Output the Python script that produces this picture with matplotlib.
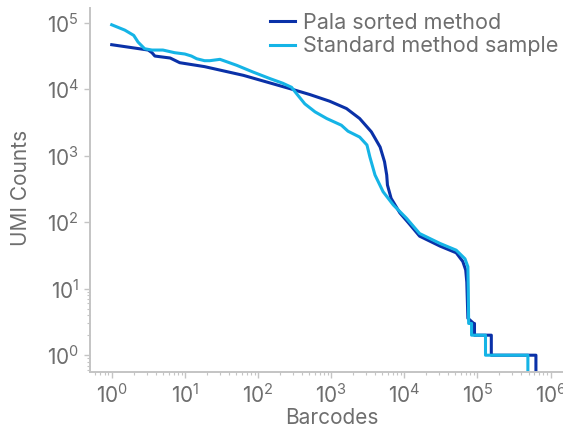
import math
import matplotlib
matplotlib.use("Agg")
import matplotlib.pyplot as plt
from matplotlib.ticker import FixedLocator, FuncFormatter, LogLocator, NullFormatter

plt.rcParams["font.family"] = ["Inter", "DejaVu Sans"]
plt.rcParams["mathtext.fontset"] = "custom"
plt.rcParams["mathtext.rm"] = "Inter"
plt.rcParams["mathtext.it"] = "Inter:italic"
plt.rcParams["mathtext.bf"] = "Inter:bold"

# Barcode rank plot data (barcode rank vs UMI count)
pala_barcodes = [1, 3.16, 3.55, 3.89, 6.31, 8.51, 18.6, 63.1, 275, 513, 955, 1622,
                 2455, 3548, 4677, 5370, 5754, 5888, 6607, 8710, 11220, 16220,
                 30900, 51300, 63100, 69200, 71600, 74100, 89100, 91200, 91200,
                 154900, 154900, 631000, 631000]
pala_counts = [46800, 38900, 35500, 31600, 29500, 25100, 21900, 16200, 10200, 8320,
               6610, 5130, 3630, 2290, 1350, 813, 513, 363, 229, 138, 100, 61.7,
               43.7, 34.7, 25.7, 19.1, 12.6, 3.6, 3, 3, 2, 2, 1, 1, 0.1]

standard_barcodes = [1, 1.51, 2.0, 2.29, 2.82, 3.55, 5.01, 7.24, 10, 12.3, 14.5,
                     18.6, 21.9, 30.2, 51.3, 85.1, 145, 219, 288, 339, 437, 603,
                     871, 1380, 1700, 2455, 3090, 3390, 3980, 5130, 7080, 10700,
                     16200, 30900, 51300, 67600, 74100, 75000, 75900, 83200, 83200,
                     129000, 129000, 490000, 490000]
standard_counts = [93300, 77600, 64600, 51300, 40700, 38900, 38900, 35500, 33900,
                   31600, 28800, 26900, 26900, 28200, 22900, 18200, 14500, 12300,
                   10700, 8510, 6030, 4570, 3630, 2880, 2340, 1910, 1450, 955, 513,
                   288, 182, 115, 67.6, 47.9, 38.0, 28.2, 21.4, 10, 3, 3, 2, 2, 1,
                   1, 0.1]

series_names = ["Pala sorted method", "Standard method sample"]
series_colors = ["#0a31a8", "#15b4e6"]

text_color = "#6e6e6e"
axis_color = "#c4c4c4"

fig = plt.figure(figsize=(5.63, 4.29), dpi=100)
ax = fig.add_axes([0.16, 0.133, 0.84, 0.848])

ax.plot(pala_barcodes, pala_counts, color=series_colors[0], lw=2.2,
        label=series_names[0], solid_joinstyle="round")
ax.plot(standard_barcodes, standard_counts, color=series_colors[1], lw=2.2,
        label=series_names[1], solid_joinstyle="round")

ax.set_xscale("log")
ax.set_yscale("log")
ax.set_xlim(0.506, 1.48e6)
ax.set_ylim(0.56, 1.66e5)

fmt = FuncFormatter(lambda v, p: r"$\mathregular{10^{%d}}$" % round(math.log10(v)))
ax.xaxis.set_major_locator(FixedLocator([10.0 ** k for k in range(0, 7)]))
ax.yaxis.set_major_locator(FixedLocator([10.0 ** k for k in range(0, 6)]))
ax.xaxis.set_major_formatter(fmt)
ax.yaxis.set_major_formatter(fmt)
ax.xaxis.set_minor_locator(LogLocator(base=10, subs=range(2, 10), numticks=20))
ax.yaxis.set_minor_locator(FixedLocator([0.6, 0.7, 0.8, 0.9] + list(range(2, 10))))
ax.xaxis.set_minor_formatter(NullFormatter())
ax.yaxis.set_minor_formatter(NullFormatter())

for side in ("top", "right"):
    ax.spines[side].set_visible(False)
for side in ("left", "bottom"):
    ax.spines[side].set_color(axis_color)
    ax.spines[side].set_linewidth(1.4)

ax.tick_params(which="major", length=4, width=1, color=axis_color,
               labelcolor=text_color, labelsize=15, pad=4)
ax.tick_params(which="minor", length=2.5, width=0.8, color=axis_color)

ax.set_xlabel("Barcodes", fontsize=15, color=text_color)
ax.set_ylabel("UMI Counts", fontsize=15, color=text_color)
ax.xaxis.set_label_coords(0.512, -0.1)
ax.yaxis.set_label_coords(-0.125, 0.505)

leg = fig.legend(loc="upper right", bbox_to_anchor=(558 / 563, 1 - 13 / 429),
                 frameon=False, fontsize=15.5, handlelength=1.16,
                 handletextpad=0.37, labelspacing=0.16, borderpad=0,
                 borderaxespad=0)
for t in leg.get_texts():
    t.set_color(text_color)

fig.savefig("out.png", dpi=100)
